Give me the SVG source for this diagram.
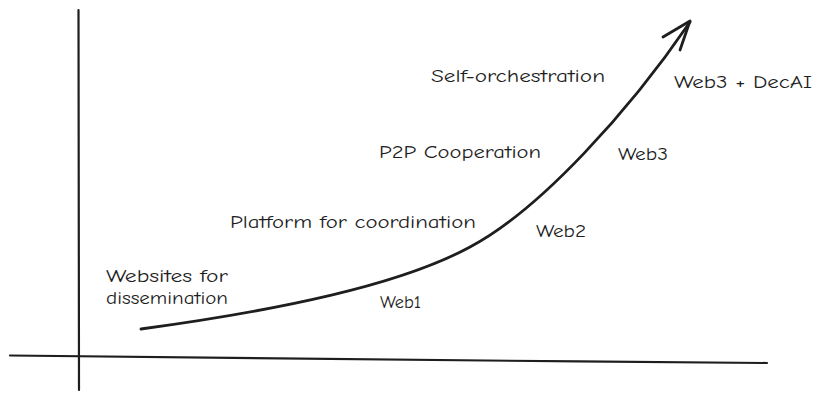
<svg xmlns="http://www.w3.org/2000/svg" width="824" height="401" viewBox="0 0 824 401">
<style>
.ax{stroke:#1e1e1e;stroke-width:2.2;fill:none;stroke-linecap:round}
.cv{stroke:#1e1e1e;stroke-width:2.8;fill:none;stroke-linecap:round;stroke-linejoin:round}
text{font-family:"Comic Neue","Liberation Sans",sans-serif;font-size:17px;fill:#1e1e1e}
</style>
<rect width="824" height="401" fill="#ffffff"/>
<g id="connectors">
<path id="y-axis" class="ax" d="M78.5,10 L79,390"/>
<path id="x-axis" class="ax" d="M10,355.5 C200,358 500,361 767,363"/>
<path id="growth-curve" class="cv" d="M141,329 C280,310 400,285 470,247 C540,210 630,110 690,22"/>
<path id="arrowhead" class="cv" d="M663,37 L690,21 L680,50"/>
</g>
<g id="label-websites"><text x="106" y="282" textLength="122" lengthAdjust="spacingAndGlyphs">Websites for</text><text x="106" y="304" textLength="122" lengthAdjust="spacingAndGlyphs">dissemination</text></g>
<g id="label-web1"><text x="380" y="308" textLength="41" lengthAdjust="spacingAndGlyphs">Web1</text></g>
<g id="label-platform"><text x="230" y="228" textLength="246" lengthAdjust="spacingAndGlyphs">Platform for coordination</text></g>
<g id="label-web2"><text x="536" y="237" textLength="50" lengthAdjust="spacingAndGlyphs">Web2</text></g>
<g id="label-p2p"><text x="379" y="158" textLength="162" lengthAdjust="spacingAndGlyphs">P2P Cooperation</text></g>
<g id="label-web3"><text x="618" y="160" textLength="50" lengthAdjust="spacingAndGlyphs">Web3</text></g>
<g id="label-self"><text x="431" y="82" textLength="174" lengthAdjust="spacingAndGlyphs">Self-orchestration</text></g>
<g id="label-web3-decai"><text x="674" y="88" textLength="138" lengthAdjust="spacingAndGlyphs">Web3 + DecAI</text></g>
</svg>
